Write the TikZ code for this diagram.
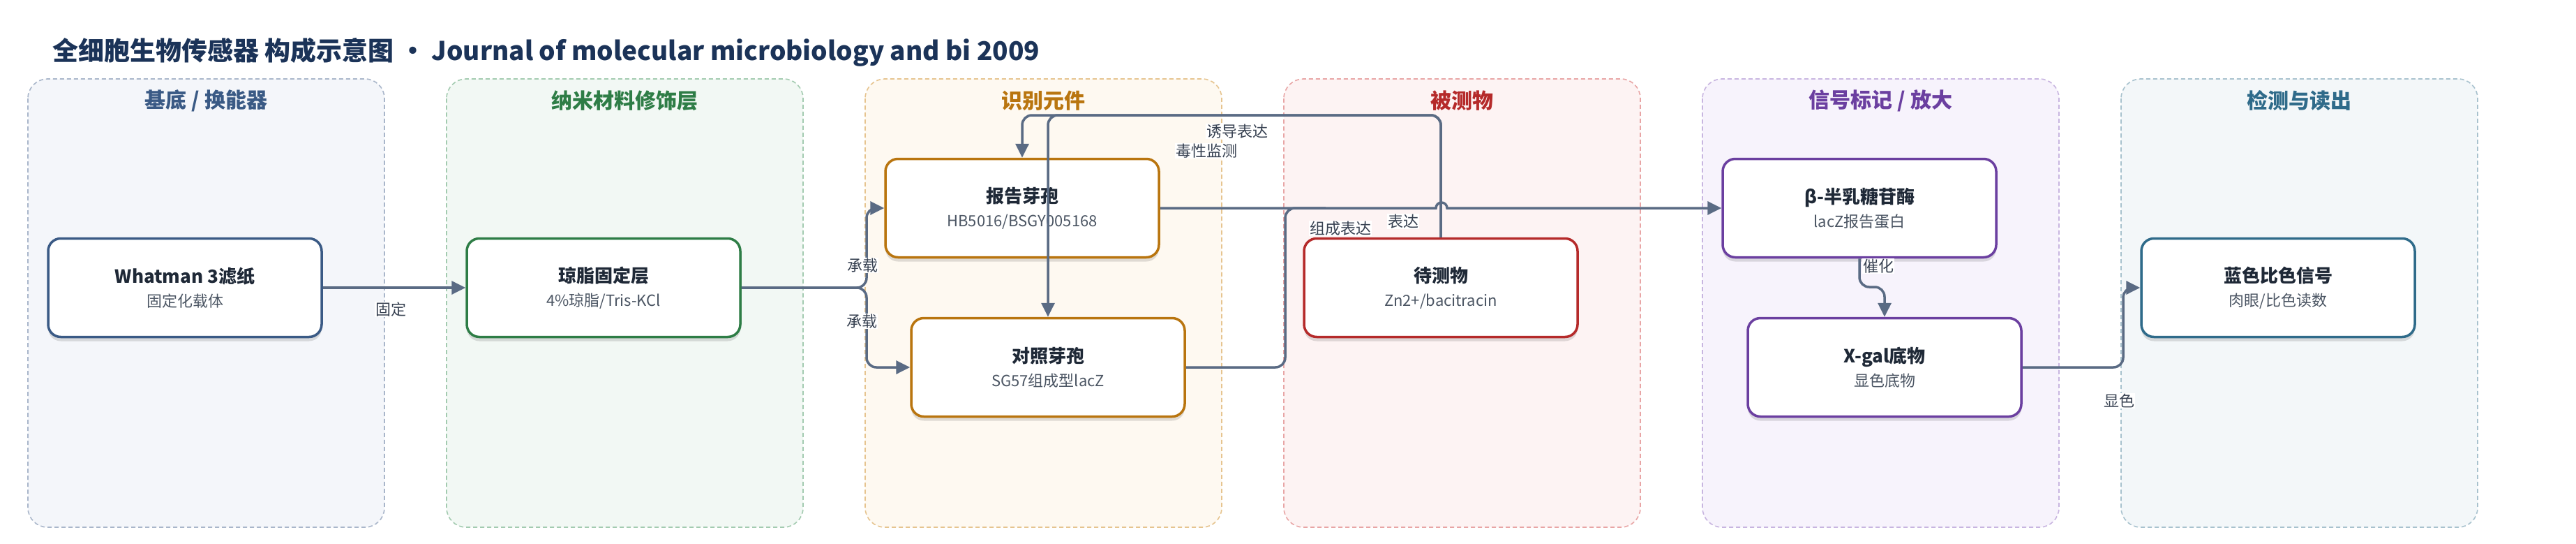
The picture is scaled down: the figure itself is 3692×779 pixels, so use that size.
\documentclass[tikz,border=0pt]{standalone}
\usepackage{fontspec}
\setmainfont{Noto Sans CJK SC}
\usetikzlibrary{arrows.meta,shadows}

\definecolor{edgec}{HTML}{5A6B84}
\definecolor{titlec}{HTML}{1B3358}
\definecolor{ttlc}{HTML}{1F2937}
\definecolor{subc}{HTML}{4B5563}
\definecolor{lblc}{HTML}{374151}
% lane colours
\definecolor{fA}{HTML}{F4F6FA}\definecolor{bA}{HTML}{A9B6CA}\definecolor{tA}{HTML}{3A5A85}
\definecolor{fB}{HTML}{F2F8F4}\definecolor{bB}{HTML}{A3CBB0}\definecolor{tB}{HTML}{2E7D46}
\definecolor{fC}{HTML}{FEF9F1}\definecolor{bC}{HTML}{E6C48F}\definecolor{tC}{HTML}{B9750F}
\definecolor{fD}{HTML}{FDF3F3}\definecolor{bD}{HTML}{E8A5A5}\definecolor{tD}{HTML}{B52A2A}
\definecolor{fE}{HTML}{F7F3FC}\definecolor{bE}{HTML}{C8B5E0}\definecolor{tE}{HTML}{6B3FA0}
\definecolor{fF}{HTML}{F3F7F9}\definecolor{bF}{HTML}{A8C2CE}\definecolor{tF}{HTML}{2F6B8A}

\newcommand\boxtext[2]{{\fontsize{26}{34}\selectfont\bfseries\color{ttlc}#1}\\#2}

\begin{document}
\begin{tikzpicture}[x=1pt,y=-1pt,
  lane/.style={dash pattern=on 6pt off 4pt, line width=1.6pt, rounded corners=28pt},
  lanetitle/.style={font=\fontsize{30}{36}\selectfont\bfseries, inner sep=0pt},
  box/.style={draw, line width=3.5pt, fill=white, rounded corners=18pt,
    minimum width=392pt, minimum height=141pt, align=center, inner sep=0pt,
    font=\fontsize{22}{34}\selectfont, text=subc,
    drop shadow={shadow xshift=0pt, shadow yshift=-6pt, opacity=0.12, fill=black}},
  edge/.style={draw=edgec, line width=3.5pt, rounded corners=14pt,
    -{Triangle[length=20pt,width=19pt]}},
  edgeplain/.style={draw=edgec, line width=3.5pt, rounded corners=14pt},
  lbl/.style={fill=white, inner sep=1pt, text=lblc, font=\fontsize{22}{26}\selectfont}
]
\useasboundingbox[fill=white] (0,0) rectangle (3692,779);

% title
\node[anchor=west, inner sep=0pt, text=titlec, font=\fontsize{37}{44}\selectfont\bfseries] (title) at (75,75)
  {全细胞生物传感器 构成示意图 · Journal of molecular microbiology and bi 2009};

% lanes
\path[lane, fill=fA, draw=bA] (40,113) rectangle (551,755);
\path[lane, fill=fB, draw=bB] (640,113) rectangle (1151,755);
\path[lane, fill=fC, draw=bC] (1240,113) rectangle (1751,755);
\path[lane, fill=fD, draw=bD] (1840,113) rectangle (2351,755);
\path[lane, fill=fE, draw=bE] (2440,113) rectangle (2951,755);
\path[lane, fill=fF, draw=bF] (3040,113) rectangle (3551,755);

\node[lanetitle, text=tA] (lt1) at (295.5,144) {基底 / 换能器};
\node[lanetitle, text=tB] (lt2) at (895.5,144) {纳米材料修饰层};
\node[lanetitle, text=tC] (lt3) at (1495.5,144) {识别元件};
\node[lanetitle, text=tD] (lt4) at (2095.5,144) {被测物};
\node[lanetitle, text=tE] (lt5) at (2695.5,144) {信号标记 / 放大};
\node[lanetitle, text=tF] (lt6) at (3295.5,144) {检测与读出};

% nodes
\node[box, draw=tA] (what) at (265,412) {\boxtext{Whatman 3滤纸}{固定化载体}};
\node[box, draw=tB] (agar) at (865,412) {\boxtext{琼脂固定层}{4\%琼脂/Tris-KCl}};
\node[box, draw=tC] (rep)  at (1465,298) {\boxtext{报告芽孢}{HB5016/BSGY005168}};
\node[box, draw=tC] (ctl)  at (1502,526) {\boxtext{对照芽孢}{SG57组成型lacZ}};
\node[box, draw=tD] (ana)  at (2065,412) {\boxtext{待测物}{Zn2+/bacitracin}};
\node[box, draw=tE] (beta) at (2665,298) {\boxtext{β-半乳糖苷酶}{lacZ报告蛋白}};
\node[box, draw=tE] (xgal) at (2701,526) {\boxtext{X-gal底物}{显色底物}};
\node[box, draw=tF] (blue) at (3265,412) {\boxtext{蓝色比色信号}{肉眼/比色读数}};

% junction coordinates
\coordinate (split) at (1242,412);
\coordinate (hop) at (2058,298);
\coordinate (cj) at (1842,526);
\coordinate (cm) at (1900,298);
\coordinate (top) at (2065,165);
\coordinate (cat) at (2665,411);
\coordinate (dis) at (3043,526);

% edges
\draw[edge] (what.east) -- (agar.west);
\draw[edge] (agar.east) -- (split) |- (rep.west);
\draw[edge] (agar.east) -- (split) |- (ctl.west);
\draw[edgeplain] (ctl.east) -- (cj) |- (cm);
\draw[edge, sharp corners] (rep.east) -- (hop) arc[start angle=180, end angle=0, radius=8pt] -- (beta.west);
\draw[edge] (ana.north) -- (top) -| (rep.north);
\draw[edge] (ana.north) -- (top) -| (ctl.north);
\draw[edge] (beta.south) -- (cat) -| (xgal.north);
\draw[edge] (xgal.east) -- (dis) |- (blue.west);

% edge labels
\node[lbl] (l1) at (560,443) {固定};
\node[lbl] (l2) at (1236,380) {承载};
\node[lbl] (l3) at (1235,460) {承载};
\node[lbl] (l4) at (1773,188) {诱导表达};
\node[lbl] (l5) at (1729,216) {毒性监测};
\node[lbl] (l6) at (1921,327) {组成表达};
\node[lbl] (l7) at (2011,317) {表达};
\node[lbl] (l8) at (2692,381) {催化};
\node[lbl] (l9) at (3037,574) {显色};
\end{tikzpicture}
\end{document}
